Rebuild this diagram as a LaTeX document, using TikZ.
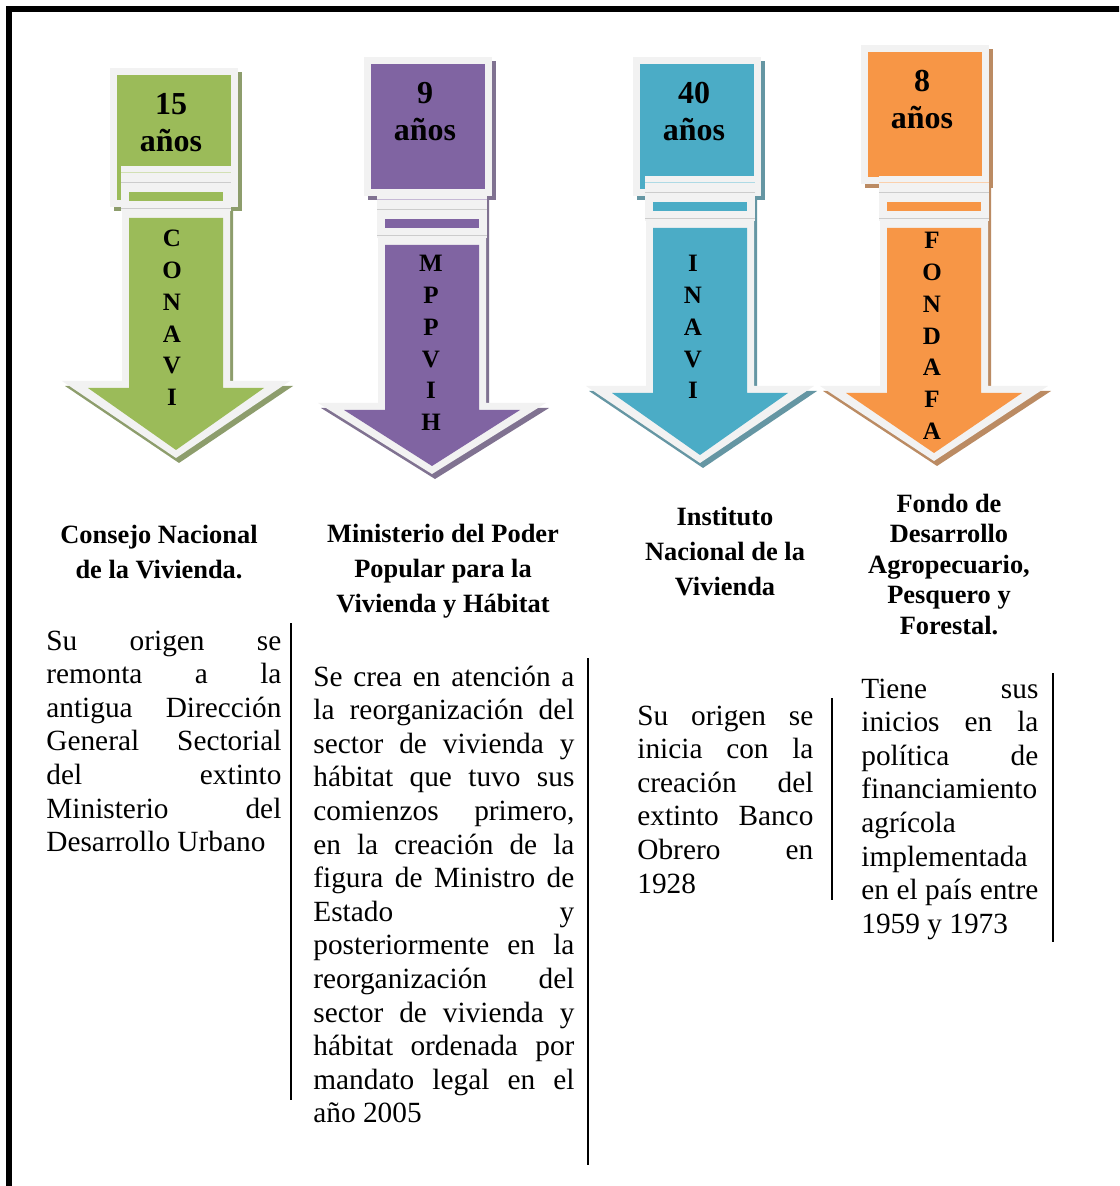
\documentclass[tikz,border=0pt]{standalone}
\usepackage{fontspec}
\setmainfont{Liberation Serif}

\definecolor{verde}{HTML}{9BBB59}
\definecolor{morado}{HTML}{8064A2}
\definecolor{azul}{HTML}{4BACC6}
\definecolor{naranja}{HTML}{F79646}
\definecolor{borde}{HTML}{F2F2F2}

\tikzset{
  anios/.style={anchor=base, inner sep=0pt, font=\fontsize{16}{18}\selectfont\bfseries},
  letra/.style={anchor=base, inner sep=0pt, font=\fontsize{12.5}{14}\selectfont\bfseries},
  titulo/.style={anchor=base, inner sep=0pt, font=\fontsize{13.2}{15}\selectfont\bfseries},
  cuerpo/.style={anchor=base west, inner sep=0pt, font=\fontsize{14.66}{16.9}\selectfont},
  regla/.style={line width=1.2pt}
}

\begin{document}
\begin{tikzpicture}[x=0.5pt, y=-0.5pt]
    \useasboundingbox (0,0) rectangle (1119,1186);
    \clip (0,0) rectangle (1119,1186);
    % marco
    \draw[line width=3pt] (9,9) rectangle (1160,1230);

    % flechas
    \foreach \nm/\cx/\sx/\ty/\sy/\hy/\tp/\cl/\yr/\lx/\ly/\word in {
        conavi/176/174/68/192/388/62/verde/15/172/247/{C,O,N,A,V,I},
        mppvih/432/428/57/219/410/56/morado/9/431/272/{M,P,P,V,I,H},
        inavi/700/697/57/202/393/62/azul/40/693/272/{I,N,A,V,I},
        fondafa/934/925/45/202/393/60/naranja/8/932/249/{F,O,N,D,A,F,A}}{
        \fill[\cl!50!gray] (\cx-51,\sy-21) -- (\cx+57,\sy-21) -- (\cx+57,\hy-2) -- (\cx+117,\hy-2)
            -- (\cx+3,\hy+\tp+13) -- (\cx-111,\hy-2) -- (\cx-51,\hy-2) -- cycle;
        \fill[borde] (\cx-54,\sy-26) -- (\cx+54,\sy-26) -- (\cx+54,\hy-7) -- (\cx+114,\hy-7)
            -- (\cx,\hy+\tp+8) -- (\cx-114,\hy-7) -- (\cx-54,\hy-7) -- cycle;
        \fill[\cl] (\cx-47,\sy+26) -- (\cx+47,\sy+26) -- (\cx+47,\hy) -- (\cx+88,\hy)
            -- (\cx,\hy+\tp) -- (\cx-88,\hy) -- (\cx-47,\hy) -- cycle;
        % cuadro de los anios
        \fill[\cl!50!gray] (\sx-60,\ty+4) rectangle (\sx+68,\ty+143);
        \fill[borde] (\sx-64,\ty) rectangle (\sx+64,\ty+139);
        \fill[\cl] (\sx-57,\ty+7) rectangle (\sx+57,\ty+132);
        % banda
        \fill[borde] (\cx-55,\sy-26) rectangle (\cx+55,\sy+19);
        \fill[\cl] (\cx-47,\sy) rectangle (\cx+47,\sy+9);
        \draw[\cl!45!white, line width=0.5pt] (\cx-55,\sy-19) -- (\cx+55,\sy-19);
        \draw[gray!40, line width=0.5pt] (\cx-55,\sy-9) -- (\cx+55,\sy-9);
        \draw[gray!40, line width=0.5pt] (\cx-55,\sy+17) -- (\cx+55,\sy+17);
        \node[anios] (\nm-num) at (\sx-3,\ty+47) {\yr};
        \node[anios] (\nm-yr) at (\sx-3,\ty+84) {años};
        \foreach \l [count=\k from 0] in \word
            \node[letra] (\nm-l\k) at (\lx,\ly+31.7*\k) {\l};
    }

    % titulos
    \foreach \t [count=\i from 0] in {Consejo Nacional, de la Vivienda.}
        \node[titulo] (tit1-\i) at (159,543+35*\i) {\t};
    \foreach \t [count=\i from 0] in {Ministerio del Poder, Popular para la, Vivienda y Hábitat}
        \node[titulo] (tit2-\i) at (443,542+35*\i) {\t};
    \foreach \t [count=\i from 0] in {Instituto, Nacional de la, Vivienda}
        \node[titulo] (tit3-\i) at (725,525+35*\i) {\t};
    \foreach \t [count=\i from 0] in {Fondo de, Desarrollo, {Agropecuario,}, Pesquero y, Forestal.}
        \node[titulo] (tit4-\i) at (949,512+30.5*\i) {\t};

    % textos
    \foreach \t [count=\i from 0] in {Su origen se, remonta a la, antigua Dirección,
        General Sectorial, del extinto, Ministerio del}
        \node[cuerpo] (txt1-\i) at (46,650+33.6*\i) {\makebox[117.5pt][s]{\t}};
    \node[cuerpo] (txt1-6) at (46,650+33.6*6) {Desarrollo Urbano};

    \foreach \t [count=\i from 0] in {Se crea en atención a, la reorganización del,
        sector de vivienda y, hábitat que tuvo sus, {comienzos primero,},
        en la creación de la, figura de Ministro de, Estado y, posteriormente en la,
        reorganización del, sector de vivienda y, hábitat ordenada por, mandato legal en el}
        \node[cuerpo] (txt2-\i) at (313,686+33.6*\i) {\makebox[130.5pt][s]{\t}};
    \node[cuerpo] (txt2-13) at (313,686+33.6*13) {año 2005};

    \foreach \t [count=\i from 0] in {Su origen se, inicia con la, creación del,
        extinto Banco, Obrero en}
        \node[cuerpo] (txt3-\i) at (637,725+33.6*\i) {\makebox[88pt][s]{\t}};
    \node[cuerpo] (txt3-5) at (637,725+33.6*5) {1928};

    \foreach \t [count=\i from 0] in {Tiene sus, inicios en la, política de,
        financiamiento, agrícola, implementada, en el país entre}
        \node[cuerpo] (txt4-\i) at (861,698+33.6*\i) {\makebox[88.5pt][s]{\t}};
    \node[cuerpo] (txt4-7) at (861,698+33.6*7) {1959 y 1973};

    % lineas verticales
    \draw[regla] (291,623) -- (291,1100);
    \draw[regla] (588,658) -- (588,1165);
    \draw[regla] (832,698) -- (832,900);
    \draw[regla] (1053,673) -- (1053,942);
\end{tikzpicture}
\end{document}
